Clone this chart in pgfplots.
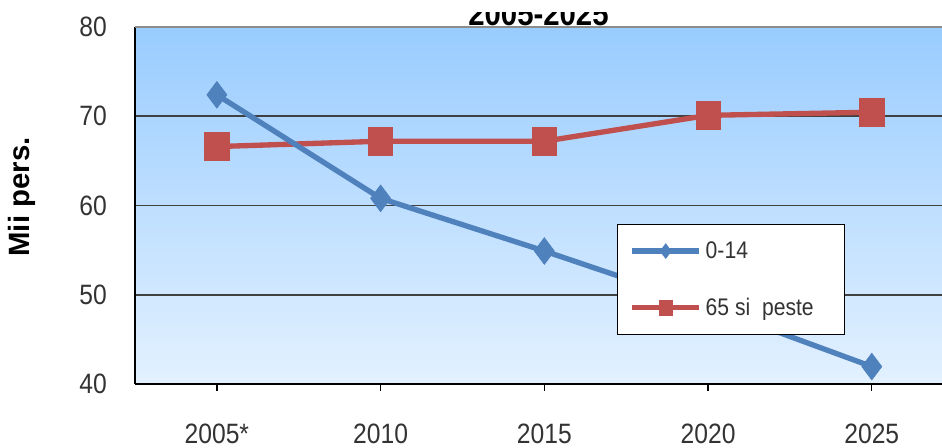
\documentclass[border=0pt]{standalone}
\usepackage{pgfplots}
\pgfplotsset{compat=1.18}
\usepackage{fontspec}
\setmainfont{Liberation Sans}[FakeStretch=0.88]
\newfontfamily\plainsans{Liberation Sans}
\definecolor{serA}{RGB}{79,129,189}
\definecolor{serB}{RGB}{192,80,77}
\definecolor{bgTop}{RGB}{153,204,255}
\definecolor{bgBot}{RGB}{227,241,255}
\begin{document}
\begin{tikzpicture}
\begin{axis}[
  at={(0pt,0pt)}, anchor=south west,
  scale only axis, width=614pt, height=267.75pt,
  xmin=-0.5, xmax=4.5, ymin=40, ymax=80,
  /pgf/number format/assume math mode=true,
  axis x line*=bottom, axis y line*=left,
  axis line style={black, line width=1.5pt},
  axis background/.style={top color=bgTop, bottom color=bgBot},
  xtick={0,1,2,3,4}, xticklabels={2005*,2010,2015,2020,2025},
  ytick={40,50,60,70}, extra y ticks={80},
  ymajorgrids, grid style={black!75, line width=1.2pt},
  extra y tick style={grid style={black!45, line width=1.2pt}},
  tick align=outside,
  x tick style={black, line width=1pt}, major tick length=5pt,
  y tick style={draw=none},
  tick label style={font=\fontsize{21}{21}\selectfont, text=black!80},
  yticklabel style={anchor=east, inner sep=0pt, xshift=-16pt},
  xticklabel style={anchor=north, inner sep=0pt, yshift=-24.5pt},
  legend style={at={(0.589,0.137)}, anchor=south west, draw=black, line width=0.8pt,
    fill=white, inner xsep=9pt, inner ysep=11pt, row sep=24pt,
    font=\fontsize{18}{18}\selectfont, text=black!80,
    /tikz/every odd column/.append style={column sep=1pt}},
  legend cell align=left,
  reverse legend,
  legend image code/.code={\draw[mark repeat=2,mark phase=2,#1,mark size=5.5pt] plot coordinates {(0pt,0pt) (25pt,0pt) (50pt,0pt)};},
]
\addplot[serB, line width=4pt, mark=square*, mark size=10.5pt, mark options={xscale=0.87, line width=0.5pt}]
  coordinates {(0,66.6) (1,67.2) (2,67.2) (3,70.1) (4,70.45)};
\addlegendentry{65 si\ \ peste\hspace*{12pt}}
\addplot[serA, line width=4pt, mark=diamond*, mark size=10pt, mark options={line width=0.5pt}]
  coordinates {(0,72.4) (1,60.8) (2,54.9) (3,48.7) (4,41.95)};
\addlegendentry{0-14}
\end{axis}
\begin{scope}
\clip (150pt,262pt) rectangle (450pt,278.25pt);
\node[anchor=base, inner sep=0pt, font=\bfseries\fontsize{25}{25}\selectfont] at (302.6pt,269pt) {2005-2025};
\end{scope}
\node[rotate=90, inner sep=0pt, font=\plainsans\bfseries\fontsize{22}{22}\selectfont] at (-84.75pt,140.25pt) {Mii pers.};
\pgfresetboundingbox
\useasboundingbox (-101.25pt,-48pt) rectangle (605.25pt,288pt);
\end{tikzpicture}
\end{document}
